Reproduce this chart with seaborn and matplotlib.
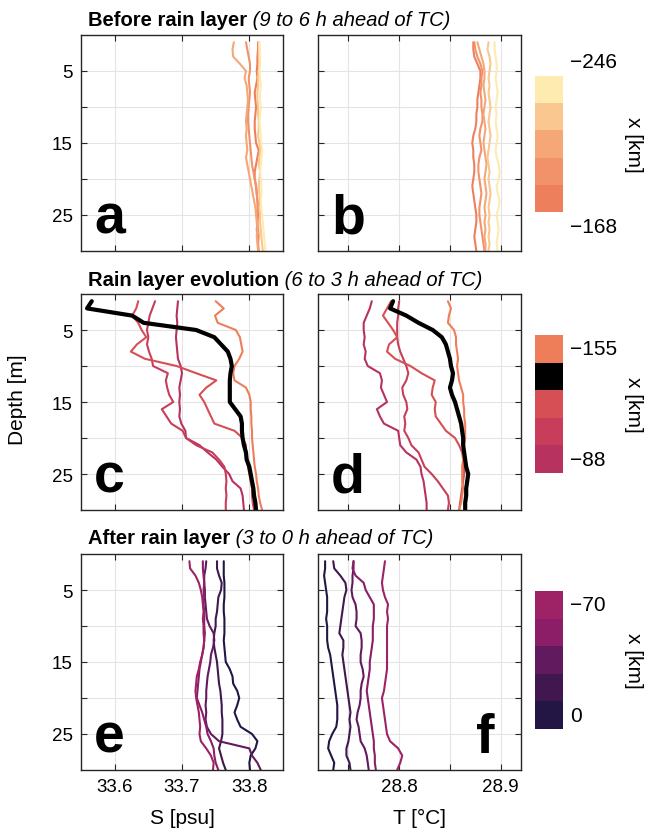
import numpy as np
import pandas as pd
import matplotlib
matplotlib.use("Agg")
import matplotlib.pyplot as plt
import matplotlib.colorbar as mcolorbar
from matplotlib.colors import LinearSegmentedColormap, ListedColormap, Normalize
import seaborn as sns

# depth of each sample [m]
depth = list(range(1, 31))

# along-track distance of each profile from the TC [km]
x_before = [-246, -226, -207, -187, -168]
x_rain = [-155, -138, -121, -105, -88]
x_after = [-70, -52, -35, -17, 0]
x_highlight = -138

# salinity [psu], one list per profile (same order as the x lists)
sal_before = [
    [33.815, 33.815, 33.816, 33.816, 33.815, 33.816, 33.817, 33.816, 33.816, 33.817, 33.816, 33.815, 33.816, 33.817, 33.818,
     33.819, 33.818, 33.817, 33.816, 33.817, 33.818, 33.818, 33.817, 33.818, 33.819, 33.820, 33.821, 33.822, 33.823, 33.824],
    [33.814, 33.815, 33.814, 33.815, 33.814, 33.813, 33.813, 33.812, 33.812, 33.813, 33.813, 33.814, 33.814, 33.813, 33.815,
     33.816, 33.815, 33.814, 33.816, 33.815, 33.814, 33.815, 33.816, 33.815, 33.816, 33.816, 33.817, 33.818, 33.819, 33.820],
    [33.777, 33.775, 33.776, 33.786, 33.795, 33.793, 33.796, 33.797, 33.798, 33.797, 33.796, 33.795, 33.796, 33.795, 33.796,
     33.797, 33.795, 33.797, 33.799, 33.801, 33.803, 33.805, 33.807, 33.809, 33.810, 33.811, 33.812, 33.811, 33.812, 33.813],
    [33.795, 33.797, 33.799, 33.801, 33.801, 33.799, 33.800, 33.801, 33.800, 33.799, 33.798, 33.798, 33.799, 33.800, 33.801,
     33.802, 33.803, 33.804, 33.806, 33.808, 33.810, 33.811, 33.812, 33.812, 33.811, 33.812, 33.813, 33.814, 33.813, 33.814],
    [33.813, 33.813, 33.812, 33.812, 33.811, 33.812, 33.810, 33.808, 33.809, 33.810, 33.809, 33.808, 33.808, 33.809, 33.810,
     33.814, 33.812, 33.810, 33.808, 33.808, 33.810, 33.811, 33.812, 33.814, 33.813, 33.812, 33.811, 33.812, 33.813, 33.813],
]
sal_rain = [
    [33.750, 33.762, 33.749, 33.753, 33.780, 33.786, 33.788, 33.790, 33.785, 33.778, 33.776, 33.778, 33.795, 33.800, 33.802,
     33.802, 33.803, 33.803, 33.804, 33.804, 33.805, 33.806, 33.807, 33.808, 33.810, 33.811, 33.813, 33.814, 33.816, 33.819],
    [33.566, 33.559, 33.626, 33.643, 33.721, 33.748, 33.758, 33.768, 33.772, 33.774, 33.772, 33.771, 33.771, 33.771, 33.771,
     33.779, 33.787, 33.789, 33.789, 33.790, 33.792, 33.795, 33.796, 33.800, 33.802, 33.804, 33.806, 33.807, 33.809, 33.810],
    [33.635, 33.632, 33.626, 33.635, 33.640, 33.647, 33.633, 33.624, 33.645, 33.692, 33.721, 33.751, 33.736, 33.726, 33.733,
     33.738, 33.743, 33.748, 33.778, 33.790, 33.795, 33.795, 33.797, 33.798, 33.800, 33.802, 33.804, 33.804, 33.805, 33.807],
    [33.660, 33.656, 33.652, 33.650, 33.648, 33.650, 33.648, 33.651, 33.655, 33.657, 33.679, 33.676, 33.678, 33.681, 33.687,
     33.670, 33.677, 33.684, 33.701, 33.706, 33.721, 33.745, 33.755, 33.763, 33.765, 33.766, 33.765, 33.766, 33.765, 33.765],
    [33.694, 33.693, 33.692, 33.693, 33.692, 33.691, 33.692, 33.693, 33.694, 33.698, 33.700, 33.698, 33.696, 33.697, 33.696,
     33.697, 33.696, 33.699, 33.705, 33.706, 33.726, 33.738, 33.751, 33.760, 33.770, 33.775, 33.787, 33.790, 33.791, 33.792],
]
sal_after = [
    [33.711, 33.712, 33.720, 33.725, 33.728, 33.730, 33.731, 33.732, 33.731, 33.732, 33.732, 33.733, 33.732, 33.730, 33.727,
     33.725, 33.722, 33.721, 33.720, 33.721, 33.723, 33.725, 33.726, 33.727, 33.726, 33.728, 33.736, 33.743, 33.747, 33.746],
    [33.731, 33.731, 33.732, 33.733, 33.732, 33.733, 33.732, 33.733, 33.733, 33.733, 33.734, 33.733, 33.732, 33.730, 33.728,
     33.726, 33.725, 33.724, 33.723, 33.722, 33.726, 33.730, 33.733, 33.736, 33.738, 33.743, 33.747, 33.748, 33.750, 33.754],
    [33.736, 33.735, 33.733, 33.733, 33.734, 33.734, 33.735, 33.736, 33.737, 33.741, 33.747, 33.748, 33.746, 33.743, 33.742,
     33.740, 33.738, 33.737, 33.736, 33.736, 33.735, 33.736, 33.735, 33.737, 33.743, 33.755, 33.800, 33.804, 33.812, 33.817],
    [33.752, 33.752, 33.755, 33.759, 33.758, 33.754, 33.753, 33.752, 33.750, 33.750, 33.748, 33.747, 33.748, 33.750, 33.752,
     33.753, 33.754, 33.755, 33.757, 33.758, 33.759, 33.759, 33.760, 33.760, 33.760, 33.758, 33.755, 33.758, 33.761, 33.765],
    [33.762, 33.762, 33.762, 33.763, 33.763, 33.763, 33.762, 33.762, 33.763, 33.763, 33.763, 33.762, 33.763, 33.764, 33.765,
     33.771, 33.775, 33.776, 33.782, 33.785, 33.782, 33.778, 33.782, 33.787, 33.804, 33.812, 33.809, 33.802, 33.800, 33.801],
]

# temperature [degC]
temp_before = [
    [28.894, 28.894, 28.895, 28.896, 28.896, 28.895, 28.896, 28.897, 28.896, 28.895, 28.896, 28.895, 28.896, 28.897, 28.896,
     28.895, 28.896, 28.898, 28.899, 28.898, 28.896, 28.897, 28.899, 28.898, 28.896, 28.897, 28.898, 28.897, 28.896, 28.897],
    [28.888, 28.887, 28.889, 28.890, 28.889, 28.888, 28.889, 28.888, 28.889, 28.890, 28.889, 28.888, 28.889, 28.890, 28.889,
     28.888, 28.887, 28.888, 28.889, 28.888, 28.889, 28.890, 28.889, 28.888, 28.889, 28.888, 28.889, 28.888, 28.889, 28.888],
    [28.877, 28.879, 28.881, 28.883, 28.884, 28.884, 28.883, 28.884, 28.885, 28.884, 28.883, 28.884, 28.885, 28.884, 28.883,
     28.884, 28.885, 28.886, 28.885, 28.884, 28.885, 28.886, 28.885, 28.884, 28.885, 28.884, 28.885, 28.884, 28.885, 28.885],
    [28.874, 28.875, 28.877, 28.880, 28.882, 28.881, 28.881, 28.880, 28.881, 28.881, 28.882, 28.882, 28.880, 28.879, 28.880,
     28.881, 28.879, 28.878, 28.878, 28.879, 28.880, 28.881, 28.880, 28.879, 28.879, 28.880, 28.881, 28.882, 28.883, 28.884],
    [28.873, 28.873, 28.874, 28.877, 28.880, 28.880, 28.879, 28.878, 28.877, 28.877, 28.876, 28.876, 28.875, 28.873, 28.872,
     28.873, 28.873, 28.874, 28.874, 28.873, 28.872, 28.873, 28.874, 28.875, 28.876, 28.876, 28.875, 28.874, 28.875, 28.876],
]
temp_rain = [
    [28.848, 28.851, 28.849, 28.848, 28.854, 28.856, 28.856, 28.857, 28.858, 28.857, 28.858, 28.859, 28.861, 28.863, 28.863,
     28.864, 28.864, 28.865, 28.865, 28.865, 28.864, 28.863, 28.863, 28.862, 28.862, 28.862, 28.863, 28.862, 28.861, 28.859],
    [28.794, 28.791, 28.807, 28.819, 28.833, 28.842, 28.846, 28.848, 28.850, 28.851, 28.853, 28.852, 28.850, 28.852, 28.855,
     28.857, 28.859, 28.861, 28.862, 28.863, 28.863, 28.864, 28.865, 28.866, 28.868, 28.867, 28.866, 28.866, 28.865, 28.865],
    [28.792, 28.788, 28.784, 28.789, 28.794, 28.798, 28.790, 28.788, 28.796, 28.811, 28.822, 28.835, 28.833, 28.832, 28.836,
     28.835, 28.836, 28.841, 28.846, 28.855, 28.859, 28.862, 28.863, 28.864, 28.864, 28.863, 28.862, 28.861, 28.860, 28.859],
    [28.800, 28.799, 28.799, 28.798, 28.798, 28.798, 28.799, 28.801, 28.804, 28.807, 28.809, 28.807, 28.803, 28.804, 28.807,
     28.808, 28.805, 28.806, 28.805, 28.809, 28.812, 28.819, 28.822, 28.825, 28.832, 28.838, 28.843, 28.848, 28.849, 28.848],
    [28.773, 28.771, 28.768, 28.765, 28.765, 28.766, 28.765, 28.767, 28.766, 28.769, 28.781, 28.783, 28.782, 28.785, 28.788,
     28.778, 28.781, 28.785, 28.799, 28.800, 28.801, 28.807, 28.817, 28.821, 28.822, 28.824, 28.825, 28.826, 28.827, 28.827],
]
temp_after = [
    [28.786, 28.785, 28.784, 28.783, 28.784, 28.786, 28.789, 28.788, 28.789, 28.788, 28.788, 28.788, 28.788, 28.788, 28.788,
     28.788, 28.787, 28.786, 28.785, 28.783, 28.784, 28.785, 28.786, 28.787, 28.788, 28.791, 28.799, 28.803, 28.801, 28.798],
    [28.755, 28.754, 28.757, 28.765, 28.767, 28.771, 28.775, 28.775, 28.775, 28.774, 28.774, 28.774, 28.773, 28.772, 28.771,
     28.771, 28.770, 28.769, 28.768, 28.769, 28.770, 28.771, 28.772, 28.773, 28.774, 28.775, 28.775, 28.776, 28.776, 28.777],
    [28.755, 28.755, 28.754, 28.754, 28.753, 28.754, 28.757, 28.758, 28.758, 28.757, 28.762, 28.763, 28.763, 28.762, 28.762,
     28.764, 28.765, 28.763, 28.762, 28.762, 28.761, 28.759, 28.758, 28.760, 28.761, 28.762, 28.766, 28.768, 28.769, 28.770],
    [28.735, 28.736, 28.742, 28.747, 28.748, 28.746, 28.745, 28.744, 28.743, 28.742, 28.741, 28.745, 28.745, 28.744, 28.745,
     28.746, 28.747, 28.748, 28.749, 28.750, 28.751, 28.752, 28.751, 28.752, 28.751, 28.750, 28.748, 28.748, 28.751, 28.752],
    [28.727, 28.727, 28.726, 28.727, 28.728, 28.729, 28.729, 28.729, 28.728, 28.729, 28.729, 28.729, 28.730, 28.732, 28.733,
     28.734, 28.735, 28.736, 28.737, 28.738, 28.739, 28.739, 28.739, 28.738, 28.734, 28.731, 28.730, 28.733, 28.736, 28.735],
]

row_titles = ["Before rain layer", "Rain layer evolution", "After rain layer"]
row_subtitles = ["(9 to 6 h ahead of TC)", "(6 to 3 h ahead of TC)", "(3 to 0 h ahead of TC)"]
panel_letters = ["a", "b", "c", "d", "e", "f"]

# colormap (cmocean "matter"-like) over the whole track
cmap = LinearSegmentedColormap.from_list("matter", [
    (0.00, "#FEEBB0"), (0.08, "#F9C68E"), (0.16, "#F5A677"), (0.24, "#F2926A"),
    (0.32, "#EE7E5C"), (0.37, "#EE7E5A"), (0.51, "#D64F55"), (0.57, "#C93E5A"),
    (0.64, "#B9335F"), (0.72, "#9D2366"), (0.79, "#8B1E67"), (0.86, "#611A5F"),
    (0.93, "#421750"), (1.00, "#231645")])
norm = Normalize(vmin=-246, vmax=0)


def profile_color(x):
    return "black" if x == x_highlight else cmap(norm(x))


def to_long(profiles, xs):
    frames = [pd.DataFrame({"depth": depth, "value": p, "x_km": x}) for p, x in zip(profiles, xs)]
    return pd.concat(frames, ignore_index=True)


sns.set_theme(style="ticks")
plt.rcParams["font.family"] = ["Liberation Sans", "DejaVu Sans"]
plt.rcParams["text.color"] = "black"
plt.rcParams["axes.labelcolor"] = "black"

fig = plt.figure(figsize=(6.46, 8.37), dpi=100)
W, H = 646, 837

col_left = [81, 318]
col_width = [202, 203]
row_top = [36, 295, 555]
ax_h = 216

rows = [(x_before, sal_before, temp_before),
        (x_rain, sal_rain, temp_rain),
        (x_after, sal_after, temp_after)]

for r, (xs, sal, temp) in enumerate(rows):
    for c, profs in enumerate([sal, temp]):
        ax = fig.add_axes([col_left[c] / W, (H - row_top[r] - ax_h) / H, col_width[c] / W, ax_h / H])
        df = to_long(profs, xs)
        normal = df[df["x_km"] != x_highlight]
        order = [x for x in xs if x != x_highlight][::-1]
        pal = {x: profile_color(x) for x in order}
        sns.lineplot(data=normal, x="value", y="depth", hue="x_km", palette=pal, hue_order=order,
                     orient="y", sort=False, estimator=None, lw=1.5, legend=False, ax=ax)
        hl = df[df["x_km"] == x_highlight]
        if len(hl):
            sns.lineplot(data=hl, x="value", y="depth", color="black", orient="y", sort=False,
                         estimator=None, lw=3, legend=False, ax=ax)

        ax.set_ylim(30, 0)
        ax.set_yticks([5, 10, 15, 20, 25])
        if c == 0:
            ax.set_xlim(33.55, 33.85)
            ax.set_xticks([33.6, 33.7, 33.8])
            ax.set_yticklabels(["5", "", "15", "", "25"])
        else:
            ax.set_xlim(28.72, 28.92)
            ax.set_xticks([28.75, 28.8, 28.85, 28.9])
            ax.set_yticklabels([])
        if r == 2:
            if c == 0:
                ax.set_xticklabels(["33.6", "33.7", "33.8"])
                ax.set_xlabel("S [psu]", fontsize=15, labelpad=9)
            else:
                ax.set_xticklabels(["", "28.8", "", "28.9"])
                ax.set_xlabel("T [°C]", fontsize=15, labelpad=9)
        else:
            ax.set_xticklabels([])
            ax.set_xlabel("")
        ax.set_ylabel("")
        ax.grid(True, color="#e4e4e4", lw=0.8)
        ax.tick_params(direction="in", top=True, right=True, length=4, width=0.8,
                       labelsize=13.5, colors="#262626", labelcolor="black", pad=6)
        for s in ax.spines.values():
            s.set_color("#262626")
            s.set_linewidth(1.0)

        letter = panel_letters[2 * r + c]
        lx = 0.78 if letter == "f" else 0.065
        ax.text(lx, 0.085, letter, transform=ax.transAxes, fontsize=40, fontweight="bold",
                va="baseline", ha="left", color="black")

    # row title: bold part followed by italic part
    baselines = [26, 286, 544]
    t = fig.text(88 / W, 1 - baselines[r] / H, row_titles[r], fontsize=14.5, fontweight="bold", va="baseline")
    fig.axes[-1].annotate(" " + row_subtitles[r], xy=(1, 0), xycoords=t, va="bottom", ha="left",
                          fontsize=14.5, style="italic")

    # discrete colorbar for the row
    cb_top = [77, 336, 592][r]
    cb_h = [136, 138, 138][r]
    cax = fig.add_axes([535 / W, (H - cb_top - cb_h) / H, 28 / W, cb_h / H])
    cols = [profile_color(x) for x in xs]
    cb = mcolorbar.ColorbarBase(cax, cmap=ListedColormap(cols[::-1]), orientation="vertical", ticks=[])
    cb.outline.set_visible(False)
    if r == 0:
        ytop, ybot = 1.11, -0.11
    else:
        ytop, ybot = 0.9, 0.1
    cax.text(1.25, ytop, str(xs[0]).replace("-", "\u2212"), transform=cax.transAxes, fontsize=15, va="center", ha="left")
    cax.text(1.25, ybot, str(xs[-1]).replace("-", "\u2212"), transform=cax.transAxes, fontsize=15, va="center", ha="left")
    fig.text(633 / W, 1 - (cb_top + cb_h / 2) / H, "x [km]", rotation=270, fontsize=15, va="center", ha="center")

fig.text(18 / W, 1 - 400 / H, "Depth [m]", rotation=90, fontsize=15, va="center", ha="center")

fig.savefig("out.png", dpi=100)
plt.close(fig)
